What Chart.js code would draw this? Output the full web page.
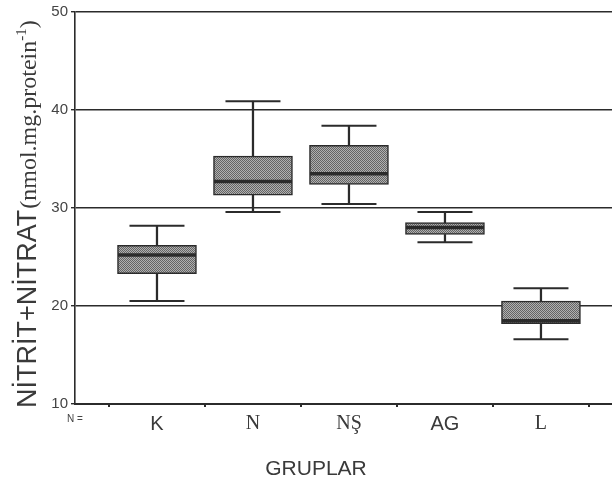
<!DOCTYPE html>
<html>
<head>
<meta charset="utf-8">
<script src="https://cdn.jsdelivr.net/npm/chart.js@4.4.0/dist/chart.umd.min.js"></script>
<style>
  html, body { margin: 0; padding: 0; background: #fff; }
  #wrap { width: 612px; height: 481px; }
</style>
</head>
<body>
<div id="wrap"><canvas id="boxChart"></canvas></div>
<script>
// groups and their box plot values
const groups = ['K', 'N', 'NŞ', 'AG', 'L'];
const groupPos = [1, 2, 3, 4, 5];
const whiskerLow = [20.5, 29.6, 30.4, 26.5, 16.6];
const q1 = [23.3, 31.3, 32.4, 27.3, 18.2];
const median = [25.2, 32.7, 33.5, 28.0, 18.5];
const q3 = [26.2, 35.3, 36.4, 28.5, 20.5];
const whiskerHigh = [28.2, 40.9, 38.4, 29.6, 21.8];
const yTicks = [10, 20, 30, 40, 50];

const ink = '#2b2b2b';

// stippled grey fill like the scanned boxes
function makePattern() {
  const p = document.createElement('canvas');
  p.width = 2; p.height = 2;
  const c = p.getContext('2d');
  c.fillStyle = '#b0b0b0';
  c.fillRect(0, 0, 2, 2);
  c.fillStyle = '#646464';
  c.fillRect(0, 0, 1, 1);
  c.fillRect(1, 1, 1, 1);
  return c.createPattern(p, 'repeat');
}
const boxFill = makePattern();

const ctx = document.getElementById('boxChart');

// extra texts: y title in two fonts, x title and the "N =" mark
const extraText = {
  id: 'extraText',
  afterDraw(chart) {
    const c = chart.ctx;
    c.save();
    c.fillStyle = '#3a3a3a';
    c.translate(36, 408);
    c.rotate(-Math.PI / 2);
    c.textBaseline = 'alphabetic';
    c.textAlign = 'left';
    c.font = '27px "Liberation Sans", Arial, sans-serif';
    c.fillText('NİTRİT+NİTRAT', 0, 0);
    let x = c.measureText('NİTRİT+NİTRAT').width + 1;
    c.font = '24px "Liberation Serif", "Times New Roman", serif';
    c.fillText('(nmol.mg.protein', x, 0);
    x += c.measureText('(nmol.mg.protein').width;
    c.font = '15px "Liberation Serif", "Times New Roman", serif';
    c.fillText('-1', x, -10);
    x += c.measureText('-1').width;
    c.font = '24px "Liberation Serif", "Times New Roman", serif';
    c.fillText(')', x, 0);
    c.restore();

    c.save();
    c.fillStyle = '#3a3a3a';
    c.font = '21px "Liberation Sans", Arial, sans-serif';
    c.textAlign = 'center';
    c.textBaseline = 'middle';
    c.fillText('GRUPLAR', 316, 469);
    c.fillStyle = '#444';
    c.font = '10px "Liberation Sans", Arial, sans-serif';
    c.textAlign = 'left';
    c.fillText('N =', 67, 419);
    c.restore();
  }
};

const pts = arr => arr.map((v, i) => ({ x: groupPos[i], y: v }));
const spans = (a, b) => a.map((v, i) => ({ x: groupPos[i], y: [v, b[i]] }));

new Chart(ctx, {
  type: 'bar',
  data: {
    datasets: [
      {
        type: 'line',
        label: 'median',
        data: pts(median),
        showLine: false,
        pointStyle: 'line',
        pointRadius: 39,
        pointBorderWidth: 3.5,
        pointBorderColor: ink,
        order: 0
      },
      {
        label: 'box',
        data: spans(q1, q3),
        backgroundColor: boxFill,
        borderColor: ink,
        borderWidth: 1.5,
        borderSkipped: false,
        barThickness: 79,
        grouped: false,
        order: 1
      },
      {
        label: 'lower whisker',
        data: spans(whiskerLow, q1),
        backgroundColor: ink,
        borderWidth: 0,
        barThickness: 1.6,
        grouped: false,
        order: 2
      },
      {
        label: 'upper whisker',
        data: spans(q3, whiskerHigh),
        backgroundColor: ink,
        borderWidth: 0,
        barThickness: 1.6,
        grouped: false,
        order: 2
      },
      {
        type: 'line',
        label: 'low cap',
        data: pts(whiskerLow),
        showLine: false,
        pointStyle: 'line',
        pointRadius: 27.5,
        pointBorderWidth: 2,
        pointBorderColor: ink,
        order: 3
      },
      {
        type: 'line',
        label: 'high cap',
        data: pts(whiskerHigh),
        showLine: false,
        pointStyle: 'line',
        pointRadius: 27.5,
        pointBorderWidth: 2,
        pointBorderColor: ink,
        order: 3
      }
    ]
  },
  options: {
    responsive: true,
    maintainAspectRatio: false,
    animation: false,
    layout: { autoPadding: false, padding: { top: 9, right: 0, bottom: 0, left: 0 } },
    plugins: {
      legend: { display: false },
      tooltip: { enabled: false }
    },
    scales: {
      x: {
        type: 'linear',
        offset: false,
        min: 0.146,
        max: 5.74,
        afterBuildTicks: scale => {
          scale.ticks = groupPos.map(v => ({ value: v }));
        },
        afterFit: scale => { scale.height = 77; },
        grid: { drawOnChartArea: false, drawTicks: true, tickLength: 3, color: ink, lineWidth: 2 },
        border: { display: true, color: ink, width: 2 },
        ticks: {
          autoSkip: false,
          maxRotation: 0,
          padding: 5,
          color: '#3a3a3a',
          font: c => (c.tick && (c.tick.value === 1 || c.tick.value === 4))
            ? { family: '"Liberation Sans", Arial, sans-serif', size: 20 }
            : { family: '"Liberation Serif", "Times New Roman", serif', size: 20 },
          callback: v => groups[groupPos.indexOf(v)] || ''
        }
      },
      y: {
        min: 10,
        max: 50,
        afterBuildTicks: scale => {
          scale.ticks = yTicks.map(v => ({ value: v }));
        },
        afterFit: scale => { scale.width = 75; },
        grid: { color: ink, lineWidth: 1.4, tickLength: 4 },
        border: { display: true, color: ink, width: 1.6 },
        ticks: {
          padding: 3,
          color: '#444',
          font: { family: '"Liberation Sans", Arial, sans-serif', size: 15 }
        }
      }
    }
  },
  plugins: [extraText]
});
</script>
</body>
</html>
